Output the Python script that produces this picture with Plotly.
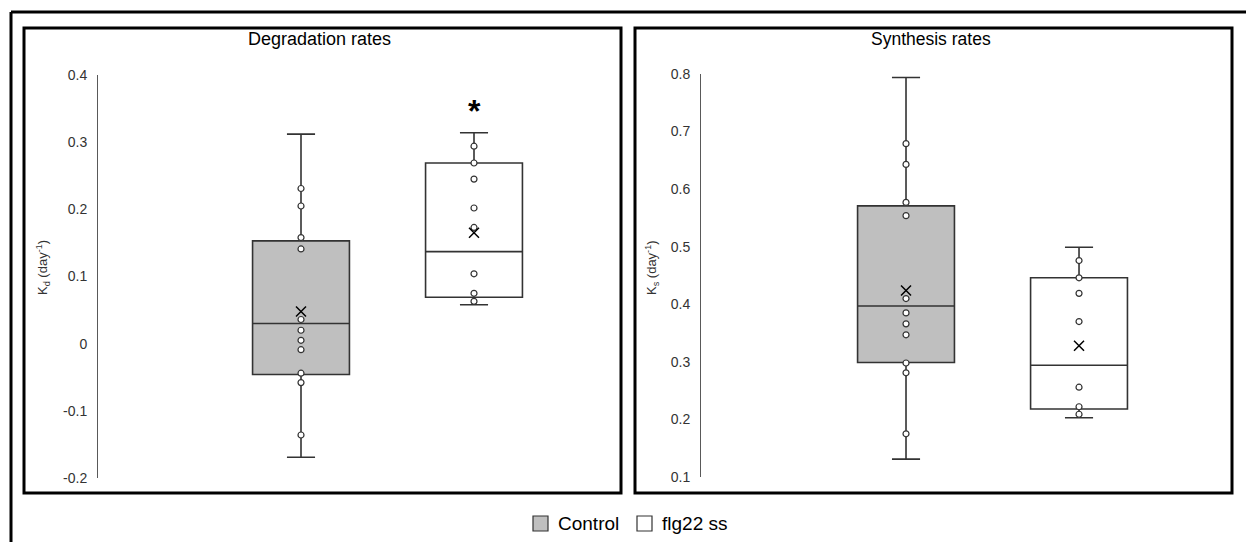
import plotly.graph_objects as go

# ---- data -------------------------------------------------------------
groups = ["Control", "flg22 ss"]
group_fill = ["#BFBFBF", "#FFFFFF"]

# Degradation rates (Kd, day^-1)
deg_points_control = [0.231, 0.205, 0.158, 0.141, 0.036, 0.020, 0.005, -0.009, -0.044, -0.058, -0.136]
deg_points_flg22 = [0.294, 0.269, 0.245, 0.202, 0.173, 0.104, 0.075, 0.063]
deg_q1 = [-0.046, 0.069]
deg_median = [0.030, 0.137]
deg_q3 = [0.153, 0.269]
deg_low = [-0.169, 0.058]
deg_high = [0.312, 0.314]
deg_mean = [0.048, 0.165]
deg_signif = [None, 0.347]  # asterisk height per group

# Synthesis rates (Ks, day^-1)
syn_points_control = [0.679, 0.643, 0.577, 0.554, 0.410, 0.385, 0.366, 0.347, 0.298, 0.281, 0.175]
syn_points_flg22 = [0.476, 0.446, 0.419, 0.370, 0.256, 0.222, 0.209]
syn_q1 = [0.299, 0.218]
syn_median = [0.397, 0.294]
syn_q3 = [0.571, 0.446]
syn_low = [0.131, 0.203]
syn_high = [0.794, 0.499]
syn_mean = [0.424, 0.328]

deg_ticks = [-0.2, -0.1, 0, 0.1, 0.2, 0.3, 0.4]
deg_ticktext = ["-0.2", "-0.1", "0", "0.1", "0.2", "0.3", "0.4"]
syn_ticks = [0.1, 0.2, 0.3, 0.4, 0.5, 0.6, 0.7, 0.8]
syn_ticktext = ["0.1", "0.2", "0.3", "0.4", "0.5", "0.6", "0.7", "0.8"]

# ---- layout helpers ----------------------------------------------------
W, H = 1246, 542
FONT = "Liberation Sans, Arial, sans-serif"
LINE = "#333333"


def px(x):
    return x / W


def py(y):
    return 1 - y / H


fig = go.Figure()


def add_panel(xa, ya, points, q1, med, q3, low, high, mean):
    for i, name in enumerate(groups):
        fig.add_trace(go.Box(
            x=[i], q1=[q1[i]], median=[med[i]], q3=[q3[i]],
            lowerfence=[low[i]], upperfence=[high[i]],
            width=0.56, whiskerwidth=0.29,
            fillcolor=group_fill[i],
            line=dict(color=LINE, width=1.6),
            boxpoints=False, showlegend=False, name=name,
            xaxis=xa, yaxis=ya, hoverinfo="skip",
        ))
    for i, pts in enumerate(points):
        fig.add_trace(go.Scatter(
            x=[i] * len(pts), y=pts, mode="markers",
            marker=dict(symbol="circle", size=6, color="white",
                        line=dict(color=LINE, width=1.2)),
            showlegend=False, xaxis=xa, yaxis=ya, hoverinfo="skip",
        ))
    fig.add_trace(go.Scatter(
        x=list(range(len(groups))), y=mean, mode="markers",
        marker=dict(symbol="x-thin", size=10,
                    line=dict(color="#000000", width=1.5)),
        showlegend=False, xaxis=xa, yaxis=ya, hoverinfo="skip",
    ))


add_panel("x", "y", [deg_points_control, deg_points_flg22],
          deg_q1, deg_median, deg_q3, deg_low, deg_high, deg_mean)
add_panel("x2", "y2", [syn_points_control, syn_points_flg22],
          syn_q1, syn_median, syn_q3, syn_low, syn_high, syn_mean)

axis_common = dict(showgrid=False, zeroline=False, ticks="", automargin=False,
                   tickfont=dict(family=FONT, size=14, color="#333333"))

fig.update_layout(
    width=W, height=H, autosize=False,
    margin=dict(l=0, r=0, t=0, b=0, pad=0, autoexpand=False),
    paper_bgcolor="white", plot_bgcolor="white",
    font=dict(family=FONT, color="#000000"),
    showlegend=False,
    xaxis=dict(domain=[px(98), px(600)], range=[-1.1734, 1.7283],
               showticklabels=False, showline=False, **axis_common),
    yaxis=dict(domain=[py(478), py(75)], range=[-0.2, 0.4],
               tickvals=deg_ticks, ticktext=deg_ticktext,
               showline=True, linecolor="#595959", linewidth=1,
               ticklabelstandoff=7, **axis_common),
    xaxis2=dict(domain=[px(701), px(1215)], range=[-1.185, 1.786],
                showticklabels=False, showline=False, anchor="y2", **axis_common),
    yaxis2=dict(domain=[py(477), py(74)], range=[0.1, 0.8], anchor="x2",
                tickvals=syn_ticks, ticktext=syn_ticktext,
                showline=True, linecolor="#595959", linewidth=1,
                ticklabelstandoff=7, **axis_common),
)

shapes = [
    # outer frame (top and left edges)
    dict(type="line", xref="paper", yref="paper", x0=px(11), x1=px(1250),
         y0=py(12), y1=py(12), line=dict(color="black", width=3)),
    dict(type="line", xref="paper", yref="paper", x0=px(11), x1=px(11),
         y0=py(12), y1=py(545), line=dict(color="black", width=3)),
    # panel frames
    dict(type="rect", xref="paper", yref="paper", x0=px(24), x1=px(621),
         y0=py(493), y1=py(28), line=dict(color="black", width=3)),
    dict(type="rect", xref="paper", yref="paper", x0=px(635), x1=px(1232),
         y0=py(493), y1=py(28), line=dict(color="black", width=3)),
]


def label(text, x, y, size, **kw):
    d = dict(text=text, x=px(x), y=py(y), xref="paper", yref="paper",
             showarrow=False, xanchor="center", yanchor="middle",
             font=dict(family=FONT, size=size, color=kw.pop("color", "#000000")))
    d.update(kw)
    return d


annotations = [
    label("Degradation rates", 320, 39, 18),
    label("Synthesis rates", 931, 39, 17.5),
    label("K<sub>d</sub> (day<sup>-1</sup>)", 43, 268, 13, textangle=-90, color="#333333"),
    label("K<sub>s</sub> (day<sup>-1</sup>)", 652, 268, 13, textangle=-90, color="#333333"),
]

# significance marker(s)
for i, v in enumerate(deg_signif):
    if v is not None:
        annotations.append(dict(text="<b>*</b>", x=i, y=v, xref="x", yref="y",
                                showarrow=False, yanchor="middle",
                                font=dict(family=FONT, size=32, color="#000000")))

# legend drawn as swatches + labels
legend_x = [533, 637]
for i, name in enumerate(groups):
    x0 = legend_x[i]
    shapes.append(dict(type="rect", xref="paper", yref="paper",
                       x0=px(x0), x1=px(x0 + 15), y0=py(531), y1=py(516),
                       fillcolor=group_fill[i], line=dict(color=LINE, width=1.2)))
    annotations.append(label(name, x0 + 23, 523.5, 19, xanchor="left"))

fig.update_layout(shapes=shapes, annotations=annotations)
fig.write_html("out.html")
